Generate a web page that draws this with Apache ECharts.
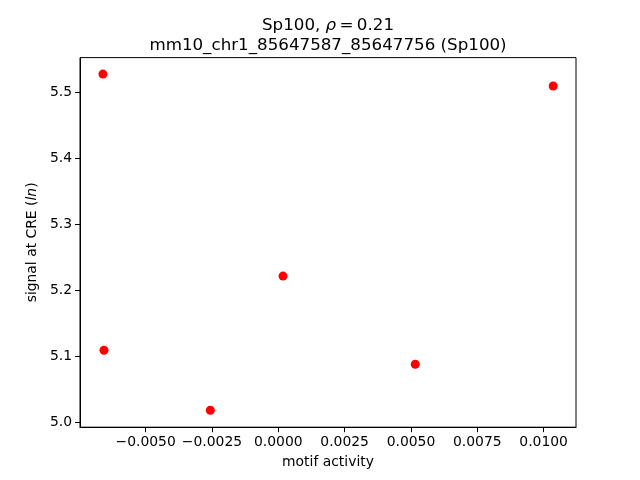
<!DOCTYPE html>
<html><head><meta charset="utf-8">
<script src="https://cdn.jsdelivr.net/npm/echarts@6/dist/echarts.min.js"></script>
<style>html,body{margin:0;padding:0;background:#fff}#c{width:640px;height:480px}</style>
</head><body><div id="c"></div>
<script>
const motifActivity = [-0.00661, 0.01036, 0.000177, -0.00657, 0.005163, -0.002562];
const signalAtCRE = [5.527, 5.509, 5.221, 5.1086, 5.0874, 5.0177];
const xTicks = [-0.005, -0.0025, 0, 0.0025, 0.005, 0.0075, 0.01];
const yTicks = [5.0, 5.1, 5.2, 5.3, 5.4, 5.5];
const xRange = [-0.007474, 0.01122];
const yRange = [4.992, 5.552];

const font = 'DejaVu Sans';
const fmtX = v => (v < 0 ? '\u2212' : '') + Math.abs(v).toFixed(4);
const fmtY = v => v.toFixed(1);
const chart = echarts.init(document.getElementById('c'), null, {renderer: 'canvas'});
chart.setOption({
  animation: false,
  backgroundColor: '#fff',
  title: {
    text: '{a|Sp100, }{i|ρ}{a|\u2009=\u20090.21}\n{a|mm10_chr1_85647587_85647756 (Sp100)}',
    left: 323, top: 11, textAlign: 'center',
    textStyle: {
      fontWeight: 'normal',
      rich: {
        a: {fontFamily: font, fontSize: 16.7, fontWeight: 'normal', color: '#000', lineHeight: 20},
        i: {fontFamily: font, fontSize: 16.7, fontWeight: 'normal', fontStyle: 'italic', color: '#000', lineHeight: 20}
      }
    }
  },
  grid: {left: 80, right: 64, top: 57.6, bottom: 52.8, show: true, borderColor: '#000', borderWidth: 1, containLabel: false},
  xAxis: {
    type: 'value', min: xRange[0], max: xRange[1],
    name: 'motif activity', nameLocation: 'middle', nameGap: 28,
    nameTextStyle: {fontFamily: font, fontSize: 13.9, color: '#000'},
    axisLine: {show: true, onZero: false, lineStyle: {color: '#000', width: 1}},
    axisTick: {show: true, length: 5, lineStyle: {color: '#000'}, customValues: xTicks},
    axisLabel: {margin: 8, fontFamily: font, fontSize: 13.9, color: '#000', customValues: xTicks, formatter: fmtX},
    splitLine: {show: false}
  },
  yAxis: {
    type: 'value', min: yRange[0], max: yRange[1],
    name: '{a|signal at CRE (}{i|ln}{a|)}', nameLocation: 'middle', nameGap: 41,
    nameTextStyle: {rich: {
      a: {fontFamily: font, fontSize: 13.9, color: '#000'},
      i: {fontFamily: font, fontSize: 13.9, fontStyle: 'italic', color: '#000'}
    }},
    axisLine: {show: true, onZero: false, lineStyle: {color: '#000', width: 1}},
    axisTick: {show: true, length: 5, lineStyle: {color: '#000'}, customValues: yTicks},
    axisLabel: {margin: 8, fontFamily: font, fontSize: 13.9, color: '#000', customValues: yTicks, formatter: fmtY},
    splitLine: {show: false}
  },
  series: [{
    type: 'scatter', symbol: 'circle', symbolSize: 9,
    itemStyle: {color: '#ff0000', opacity: 1},
    data: motifActivity.map((x, i) => [x, signalAtCRE[i]])
  }]
});
</script></body></html>
